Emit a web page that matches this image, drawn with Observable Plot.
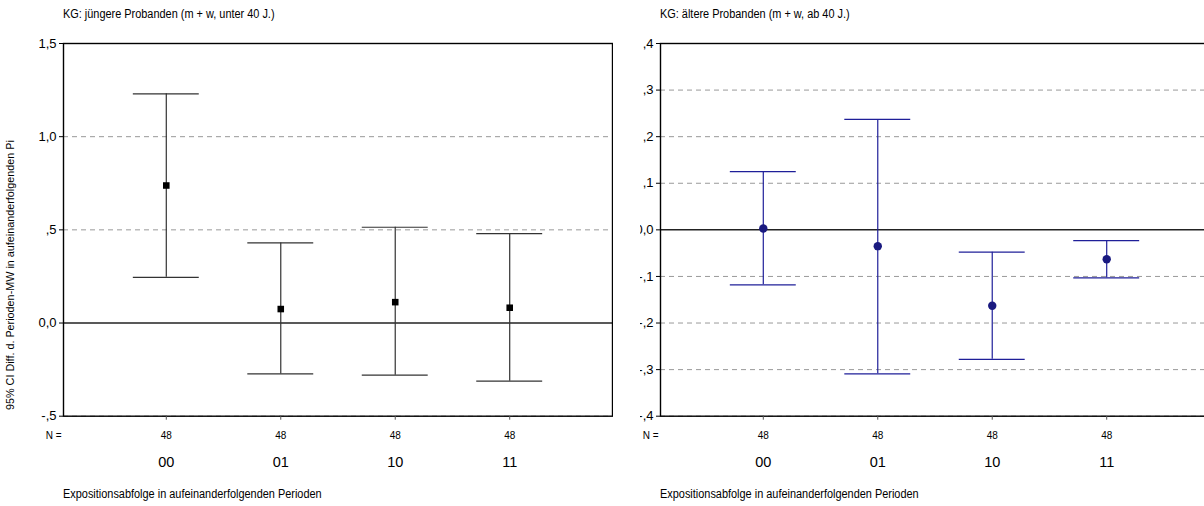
<!DOCTYPE html>
<html>
<head>
<meta charset="utf-8">
<script src="https://cdn.jsdelivr.net/npm/d3@7"></script>
<script src="https://cdn.jsdelivr.net/npm/@observablehq/plot@0.6"></script>
<style>
  html, body { margin: 0; padding: 0; background: white; overflow: hidden; }
  body { width: 1204px; height: 506px; position: relative; font-family: "Liberation Sans", Arial, sans-serif; color: #000; }
  svg { max-width: none !important; }
  .t { position: absolute; font-size: 12px; white-space: nowrap; z-index: 5; transform: scaleX(0.91); transform-origin: 0 0; }
  .ylab { position: absolute; font-size: 10.8px; white-space: nowrap; transform: rotate(-90deg); transform-origin: 0 0; line-height: 12px; z-index: 5; }
  #left { position: absolute; left: 0; top: 0; width: 613px; }
  #rightclip { position: absolute; left: 640px; top: 0; width: 564px; height: 506px; overflow: hidden; }
  #right { position: absolute; left: -43.5px; top: 0; width: 613px; }
</style>
</head>
<body>
<div id="left"></div>
<div id="rightclip"><div id="right"></div></div>
<div class="t" style="left:63px; top:7px;">KG: jüngere Probanden (m + w, unter 40 J.)</div>
<div class="t" style="left:660px; top:7px;">KG: ältere Probanden (m + w, ab 40 J.)</div>
<div class="ylab" style="left:4px; top:410px;">95% CI Diff. d. Perioden-MW in aufeinanderfolgenden Pi</div>
<div class="t" style="left:63px; top:487px;">Expositionsabfolge in aufeinanderfolgenden Perioden</div>
<div class="t" style="left:660px; top:487px;">Expositionsabfolge in aufeinanderfolgenden Perioden</div>
<script>
// ---------- data ----------
const categories = ["00", "01", "10", "11"];

// left panel: younger subjects
const nYoung    = [48, 48, 48, 48];
const meanYoung = [0.738, 0.075, 0.112, 0.082];
const lowYoung  = [0.245, -0.273, -0.280, -0.312];
const highYoung = [1.230, 0.430, 0.514, 0.480];
const ticksYoung = [-0.5, 0, 0.5, 1.0, 1.5];
const tickLabelsYoung = ["-,5", "0,0", ",5", "1,0", "1,5"];

// right panel: older subjects
const nOld    = [48, 48, 48, 48];
const meanOld = [0.003, -0.035, -0.163, -0.063];
const lowOld  = [-0.118, -0.309, -0.278, -0.103];
const highOld = [0.125, 0.237, -0.048, -0.023];
const ticksOld = [-0.4, -0.3, -0.2, -0.1, 0, 0.1, 0.2, 0.3, 0.4];
const tickLabelsOld = ["-,4", "-,3", "-,2", "-,1", "0,0", ",1", ",2", ",3", ",4"];

function makePanel(n, mean, low, high, ticks, tickLabels, opts) {
  const data = categories.map((c, i) => ({cat: c, n: n[i], mean: mean[i], low: low[i], high: high[i]}));
  const grid = ticks.filter(t => t !== 0 && t !== ticks[ticks.length - 1]);
  const fmt = d => tickLabels[ticks.findIndex(t => Math.abs(t - d) < 1e-9)];
  return Plot.plot({
    width: 613,
    height: 480,
    marginLeft: 63,
    marginRight: 1,
    marginTop: 43,
    marginBottom: 64.3,
    style: {fontFamily: '"Liberation Sans", Arial, sans-serif', background: "white", color: "#000"},
    x: {type: "band", domain: categories, paddingInner: 0.424, paddingOuter: 0.61, align: 0.5, round: false},
    y: {domain: [ticks[0], ticks[ticks.length - 1]]},
    marks: [
      Plot.ruleY(grid, {stroke: "#999", strokeDasharray: "5,4", strokeWidth: 1}),
      Plot.ruleY([0], {stroke: "#222", strokeWidth: 1.5}),
      Plot.frame({stroke: "#000", strokeWidth: 1.4}),
      Plot.axisY({ticks: ticks, tickFormat: fmt, tickSize: 4, tickPadding: 3, fontSize: 13, label: null}),
      Plot.axisX({tickSize: 4, tickPadding: 37, fontSize: 14.5, label: null, stroke: "#555"}),
      Plot.text(data, {x: "cat", text: d => String(d.n), frameAnchor: "bottom", dy: 23, fontSize: 10}),
      Plot.text(["N ="], {frameAnchor: "bottom-left", textAnchor: "end", dx: -2, dy: 23, fontSize: 10}),
      Plot.ruleX(data, {x: "cat", y1: "low", y2: "high", stroke: opts.line, strokeWidth: 1.2}),
      Plot.tickY(data, {x: "cat", y: "low", stroke: opts.line, strokeWidth: 1.2}),
      Plot.tickY(data, {x: "cat", y: "high", stroke: opts.line, strokeWidth: 1.2}),
      Plot.dot(data, {x: "cat", y: "mean", symbol: opts.symbol, r: opts.r, fill: opts.dot, stroke: "none"})
    ]
  });
}

document.getElementById("left").appendChild(
  makePanel(nYoung, meanYoung, lowYoung, highYoung, ticksYoung, tickLabelsYoung,
    {line: "#333", dot: "#000", symbol: "square", r: 3.7}));
document.getElementById("right").appendChild(
  makePanel(nOld, meanOld, lowOld, highOld, ticksOld, tickLabelsOld,
    {line: "#1f1f99", dot: "#1a1a80", symbol: "circle", r: 4.2}));
</script>
</body>
</html>
